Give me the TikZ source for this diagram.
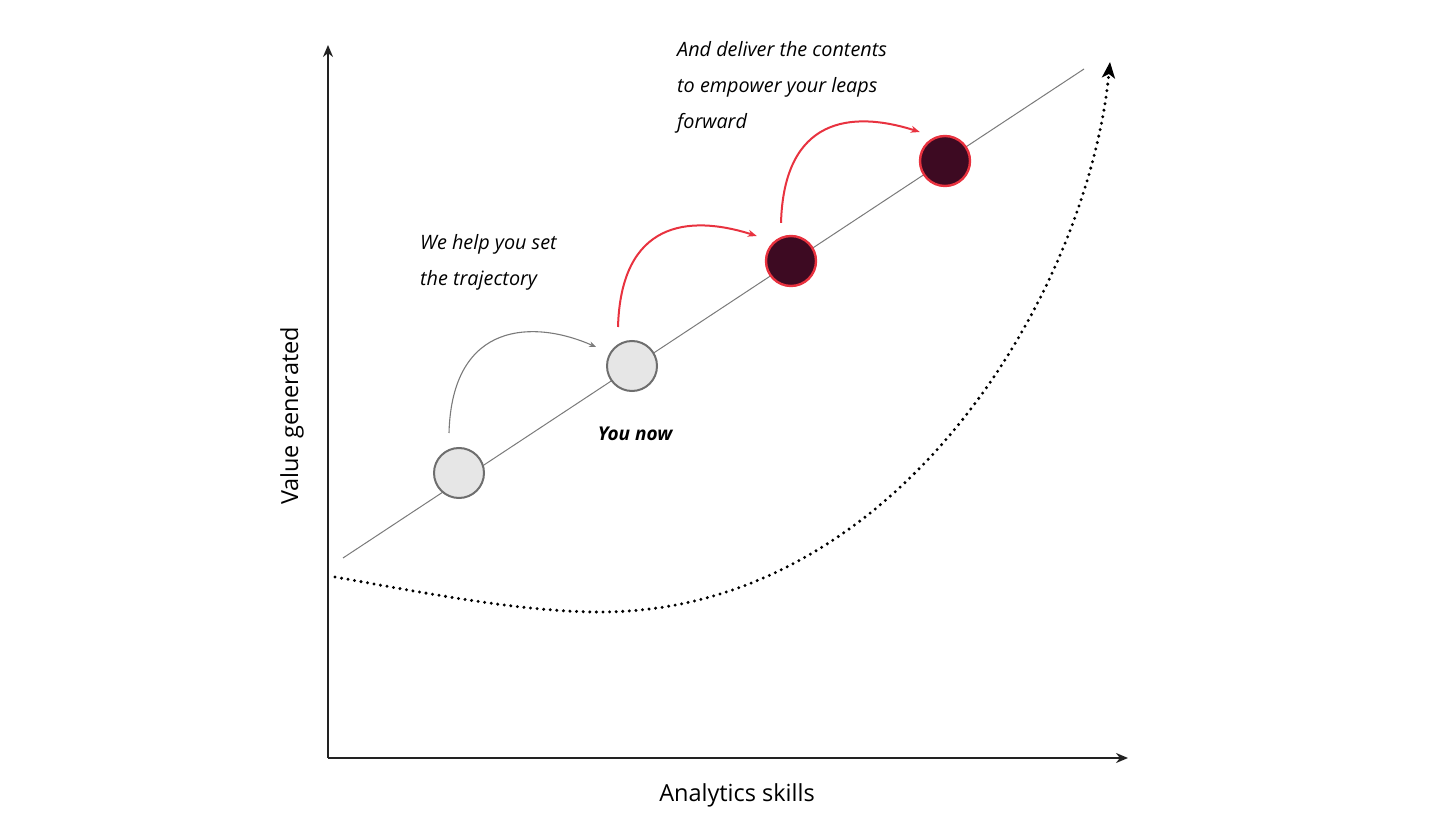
\documentclass[tikz,border=0pt]{standalone}
\usepackage{fontspec}
\newfontfamily\axisfont{Open Sans}
\newfontfamily\handfont{Open Sans}
\usepackage{tikz}
\usetikzlibrary{arrows.meta, positioning}
\definecolor{axisgray}{HTML}{222222}
\definecolor{linegray}{HTML}{7A7A7A}
\definecolor{ringgray}{HTML}{6E6E6E}
\definecolor{dotfill}{HTML}{E6E6E6}
\definecolor{leapred}{HTML}{E8323F}
\definecolor{leapfill}{HTML}{3D0A22}

\begin{document}
\begin{tikzpicture}[x=1pt, y=1pt, >=Stealth,
  ax/.style={draw=axisgray, line width=2pt,
             -{Stealth[length=12pt, width=10pt]}},
  diag/.style={draw=linegray, line width=1pt},
  ptL/.style={circle, draw=ringgray, fill=dotfill, line width=2pt,
              inner sep=0pt, minimum size=50pt},
  ptD/.style={circle, draw=leapred, fill=leapfill, line width=2.4pt,
              inner sep=0pt, minimum size=50pt},
  hop/.style={line width=2pt, draw=leapred,
              -{Stealth[length=9pt, width=7pt]}},
  hopG/.style={line width=1.1pt, draw=linegray,
               -{Stealth[length=7pt, width=5.5pt]}},
  dots/.style={line width=3.3pt, line cap=round,
               dash pattern=on 0pt off 6.6pt,
               -{Stealth[length=16pt, width=13pt, inset=4pt]}},
  lab/.style={font=\axisfont\fontsize{23.5}{26}\selectfont, text=black},
  hand/.style={font=\handfont\itshape\fontsize{19.8}{36}\selectfont,
               align=left, inner sep=0pt, anchor=north west}]
\useasboundingbox (0,0) rectangle (1456,820);
% axes
\coordinate (o) at (328,62);
\coordinate (ytop) at (328,775);
\coordinate (xend) at (1128,62);
\draw[ax] (o) -- (ytop);
\draw[ax] (o) -- (xend);
\node[lab, rotate=90] (ylab) at (292,404) {Value generated};
\node[lab] (xlab) at (737,25) {Analytics skills};
% trend line
\coordinate (l0) at (343,262);
\coordinate (l1) at (1084,751);
\draw[diag] (l0) -- (l1);
% growth curve
\coordinate (c0) at (335,243);
\coordinate (cmin) at (600,208);
\coordinate (c1) at (1110,758);
\draw[dots] (c0) .. controls (420,228) and (520,208) .. (cmin)
  .. controls (900,208) and (1088,530) .. (c1);
% stages
\node[ptL] (start) at (459,347) {};
\node[ptL] (now)   at (632,454) {};
\node[ptD] (next)  at (791,559) {};
\node[ptD] (leap)  at (945,659) {};
% hops
\draw[hopG] ([xshift=-10pt, yshift=14pt]start.north)
  .. controls +(3,113) and +(-61,27) .. ([xshift=-10pt, yshift=19pt]now.west);
\draw[hop] ([xshift=-14pt, yshift=13pt]now.north)
  .. controls +(3,105) and +(-69,22) .. ([xshift=-8pt, yshift=25pt]next.west);
\draw[hop] ([xshift=-10pt, yshift=12pt]next.north)
  .. controls +(3,105) and +(-69,22) .. ([xshift=1pt, yshift=29pt]leap.west);
% notes
\node[hand] (help) at (420,586) {We help you set\\the trajectory};
\node[font=\handfont\itshape\bfseries\fontsize{19}{24}\selectfont] (you) at (635,386) {You now};
\node[hand] (deliver) at (677,779) {And deliver the contents\\to empower your leaps\\forward};
\end{tikzpicture}
\end{document}
